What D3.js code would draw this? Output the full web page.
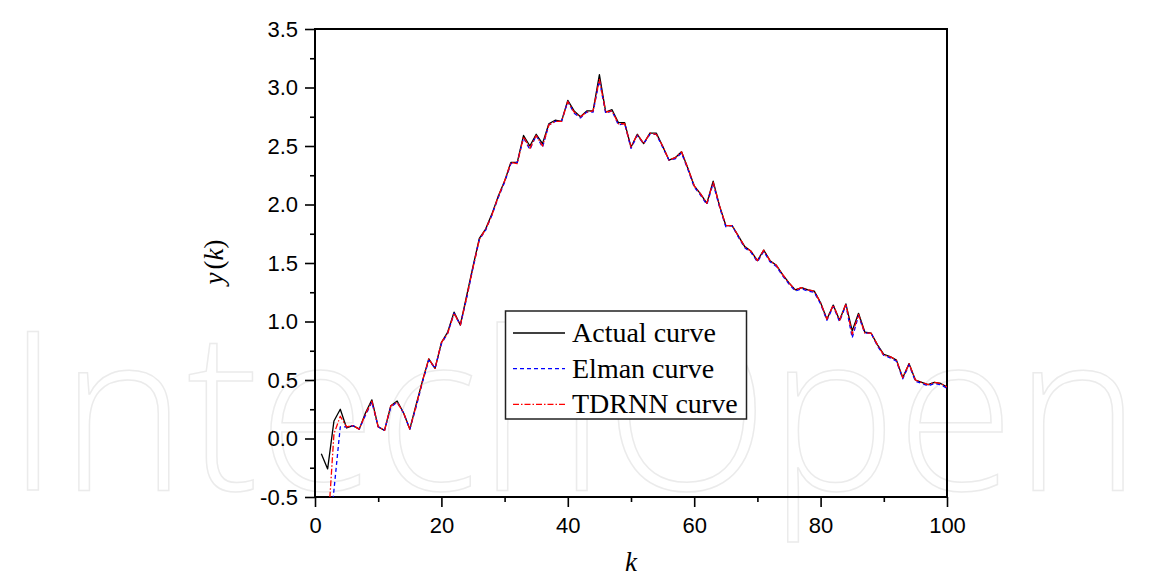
<!DOCTYPE html>
<html>
<head>
<meta charset="utf-8">
<script src="https://cdn.jsdelivr.net/npm/d3@7/dist/d3.min.js"></script>
<style>
  html, body { margin: 0; padding: 0; background: #ffffff; }
  svg { display: block; }
</style>
</head>
<body>
<svg id="chart" width="1150" height="578"></svg>
<script>
// Sample index k = 1 .. 100
const steps = d3.range(1, 101);

// Measured output y(k)
const actual = [
  -0.13, -0.26, 0.15, 0.25, 0.09, 0.11, 0.08, 0.22, 0.33, 0.10,
   0.07, 0.28, 0.32, 0.22, 0.08, 0.29, 0.49, 0.68, 0.60, 0.82,
   0.91, 1.08, 0.97, 1.22, 1.47, 1.71, 1.79, 1.92, 2.07, 2.20,
   2.36, 2.36, 2.59, 2.50, 2.60, 2.52, 2.69, 2.72, 2.71, 2.89,
   2.80, 2.75, 2.80, 2.80, 3.11, 2.79, 2.81, 2.70, 2.70, 2.49,
   2.60, 2.52, 2.61, 2.61, 2.50, 2.38, 2.40, 2.45, 2.31, 2.16,
   2.09, 2.01, 2.20, 1.99, 1.82, 1.82, 1.73, 1.64, 1.60, 1.52,
   1.61, 1.52, 1.48, 1.40, 1.33, 1.27, 1.29, 1.27, 1.26, 1.16,
   1.02, 1.14, 1.01, 1.15, 0.92, 1.07, 0.91, 0.90, 0.80, 0.72,
   0.70, 0.67, 0.52, 0.64, 0.50, 0.48, 0.46, 0.48, 0.47, 0.44
];

// Elman network prediction (no output at k = 1)
const elman = [
   null, -1.00, -0.44, 0.10, 0.10, 0.11, 0.08, 0.20, 0.31, 0.10,
   0.07, 0.27, 0.31, 0.22, 0.08, 0.27, 0.48, 0.67, 0.60, 0.81,
   0.90, 1.07, 0.97, 1.20, 1.46, 1.70, 1.78, 1.91, 2.06, 2.19,
   2.35, 2.36, 2.57, 2.47, 2.59, 2.49, 2.68, 2.71, 2.71, 2.88,
   2.78, 2.74, 2.79, 2.79, 3.06, 2.78, 2.80, 2.68, 2.69, 2.48,
   2.59, 2.52, 2.60, 2.60, 2.49, 2.38, 2.39, 2.44, 2.30, 2.15,
   2.08, 2.00, 2.18, 1.98, 1.81, 1.82, 1.72, 1.63, 1.59, 1.51,
   1.60, 1.51, 1.47, 1.39, 1.32, 1.26, 1.28, 1.26, 1.25, 1.15,
   1.01, 1.13, 1.00, 1.14, 0.86, 1.05, 0.90, 0.90, 0.79, 0.71,
   0.69, 0.66, 0.51, 0.63, 0.49, 0.47, 0.45, 0.47, 0.46, 0.43
];

// TDRNN prediction (no output at k = 1)
const tdrnn = [
   null, -0.80, 0.04, 0.19, 0.10, 0.11, 0.08, 0.21, 0.32, 0.10,
   0.07, 0.28, 0.31, 0.22, 0.08, 0.28, 0.49, 0.68, 0.60, 0.82,
   0.90, 1.07, 0.97, 1.21, 1.46, 1.70, 1.79, 1.91, 2.07, 2.20,
   2.36, 2.35, 2.58, 2.48, 2.59, 2.50, 2.68, 2.71, 2.71, 2.88,
   2.79, 2.75, 2.79, 2.80, 3.07, 2.79, 2.80, 2.69, 2.69, 2.49,
   2.60, 2.52, 2.61, 2.60, 2.50, 2.38, 2.40, 2.45, 2.31, 2.16,
   2.09, 2.01, 2.19, 1.99, 1.82, 1.82, 1.73, 1.64, 1.60, 1.52,
   1.61, 1.52, 1.48, 1.40, 1.33, 1.27, 1.29, 1.27, 1.26, 1.16,
   1.02, 1.14, 1.01, 1.15, 0.89, 1.06, 0.90, 0.90, 0.80, 0.71,
   0.70, 0.67, 0.52, 0.64, 0.50, 0.48, 0.46, 0.48, 0.47, 0.44
];

// Axis ticks
const xMajorTicks = [0, 20, 40, 60, 80, 100];
const xMinorTicks = [10, 30, 50, 70, 90];
const yMajorTicks = [-0.5, 0.0, 0.5, 1.0, 1.5, 2.0, 2.5, 3.0, 3.5];
const yMinorTicks = [-0.25, 0.25, 0.75, 1.25, 1.75, 2.25, 2.75, 3.25];

const legendLabels = ["Actual curve", "Elman curve", "TDRNN curve"];

const plot = { left: 315, right: 947, top: 29, bottom: 497 };

const svg = d3.select("#chart");

// Faint publisher mark behind the plot
svg.append("text")
  .attr("x", 6)
  .attr("y", 490)
  .attr("textLength", 1135)
  .attr("lengthAdjust", "spacingAndGlyphs")
  .attr("font-family", "'Open Sans', 'DejaVu Sans', sans-serif")
  .attr("font-weight", 300)
  .attr("font-size", 222)
  .attr("fill", "none")
  .attr("stroke", "#ebebeb")
  .attr("stroke-width", 1.5)
  .text("IntechOpen");

const x = d3.scaleLinear().domain([0, 100]).range([plot.left, plot.right]);
const y = d3.scaleLinear().domain([-0.5, 3.5]).range([plot.bottom, plot.top]);

svg.append("defs").append("clipPath").attr("id", "plot-clip")
  .append("rect")
  .attr("x", plot.left).attr("y", plot.top)
  .attr("width", plot.right - plot.left)
  .attr("height", plot.bottom - plot.top);

const tickFont = "'Liberation Sans', Arial, sans-serif";
const serifFont = "'Liberation Serif', 'Times New Roman', serif";

// Minor ticks (no labels)
svg.append("g")
  .attr("transform", `translate(0,${plot.bottom})`)
  .call(d3.axisBottom(x).tickValues(xMinorTicks).tickSize(5).tickFormat(""))
  .call(g => g.select(".domain").remove())
  .call(g => g.selectAll("line").attr("stroke", "#000").attr("stroke-width", 1.6));

svg.append("g")
  .attr("transform", `translate(${plot.left},0)`)
  .call(d3.axisLeft(y).tickValues(yMinorTicks).tickSize(5).tickFormat(""))
  .call(g => g.select(".domain").remove())
  .call(g => g.selectAll("line").attr("stroke", "#000").attr("stroke-width", 1.6));

// Major ticks with labels
svg.append("g")
  .attr("transform", `translate(0,${plot.bottom})`)
  .call(d3.axisBottom(x).tickValues(xMajorTicks).tickSize(10).tickPadding(10)
    .tickFormat(d3.format("d")))
  .call(g => g.select(".domain").remove())
  .call(g => g.selectAll("line").attr("stroke", "#000").attr("stroke-width", 1.6))
  .call(g => g.selectAll("text")
    .attr("font-family", tickFont).attr("font-size", 22).attr("fill", "#000"));

svg.append("g")
  .attr("transform", `translate(${plot.left},0)`)
  .call(d3.axisLeft(y).tickValues(yMajorTicks).tickSize(10).tickPadding(7)
    .tickFormat(d3.format(".1f")))
  .call(g => g.select(".domain").remove())
  .call(g => g.selectAll("line").attr("stroke", "#000").attr("stroke-width", 1.6))
  .call(g => g.selectAll("text")
    .attr("font-family", tickFont).attr("font-size", 22).attr("fill", "#000")
    .text(d => d3.format(".1f")(d).replace("−", "-")));

// Plot frame
svg.append("rect")
  .attr("x", plot.left).attr("y", plot.top)
  .attr("width", plot.right - plot.left)
  .attr("height", plot.bottom - plot.top)
  .attr("fill", "none")
  .attr("stroke", "#000")
  .attr("stroke-width", 2);

// Curves
const line = d3.line()
  .defined(d => d[1] !== null)
  .x(d => x(d[0]))
  .y(d => y(d[1]));

const curves = svg.append("g").attr("clip-path", "url(#plot-clip)");

const seriesStyle = [
  { values: actual, color: "#000000", dash: null, width: 1.3 },
  { values: elman, color: "#0000ff", dash: "4,3", width: 1.3 },
  { values: tdrnn, color: "#ff0000", dash: "6,2,1.5,2", width: 1.3 }
];

seriesStyle.forEach(s => {
  curves.append("path")
    .datum(steps.map((k, i) => [k, s.values[i]]))
    .attr("d", line)
    .attr("fill", "none")
    .attr("stroke", s.color)
    .attr("stroke-width", s.width)
    .attr("stroke-linejoin", "round")
    .attr("stroke-dasharray", s.dash);
});

// Axis titles
svg.append("text")
  .attr("x", x(50))
  .attr("y", 571)
  .attr("text-anchor", "middle")
  .attr("font-family", serifFont)
  .attr("font-style", "italic")
  .attr("font-size", 27)
  .text("k");

const yTitle = svg.append("text")
  .attr("transform", `translate(223,262) rotate(-90)`)
  .attr("text-anchor", "middle")
  .attr("font-family", serifFont)
  .attr("font-size", 27);
yTitle.append("tspan").attr("font-style", "italic").text("y");
yTitle.append("tspan").attr("dx", 3).text("(");
yTitle.append("tspan").attr("font-style", "italic").text("k");
yTitle.append("tspan").text(")");

// Legend
const legend = svg.append("g");
legend.append("rect")
  .attr("x", 505.5).attr("y", 311)
  .attr("width", 241).attr("height", 108)
  .attr("fill", "#ffffff")
  .attr("stroke", "#222")
  .attr("stroke-width", 1.5);

legendLabels.forEach((label, i) => {
  const cy = 333 + i * 35.7;
  const s = seriesStyle[i];
  legend.append("line")
    .attr("x1", 513).attr("x2", 565)
    .attr("y1", cy).attr("y2", cy)
    .attr("stroke", s.color)
    .attr("stroke-width", 1.3)
    .attr("stroke-dasharray", s.dash);
  legend.append("text")
    .attr("x", 572)
    .attr("y", cy + 9)
    .attr("font-family", serifFont)
    .attr("font-size", 28)
    .attr("fill", "#000")
    .text(label);
});
</script>
</body>
</html>
